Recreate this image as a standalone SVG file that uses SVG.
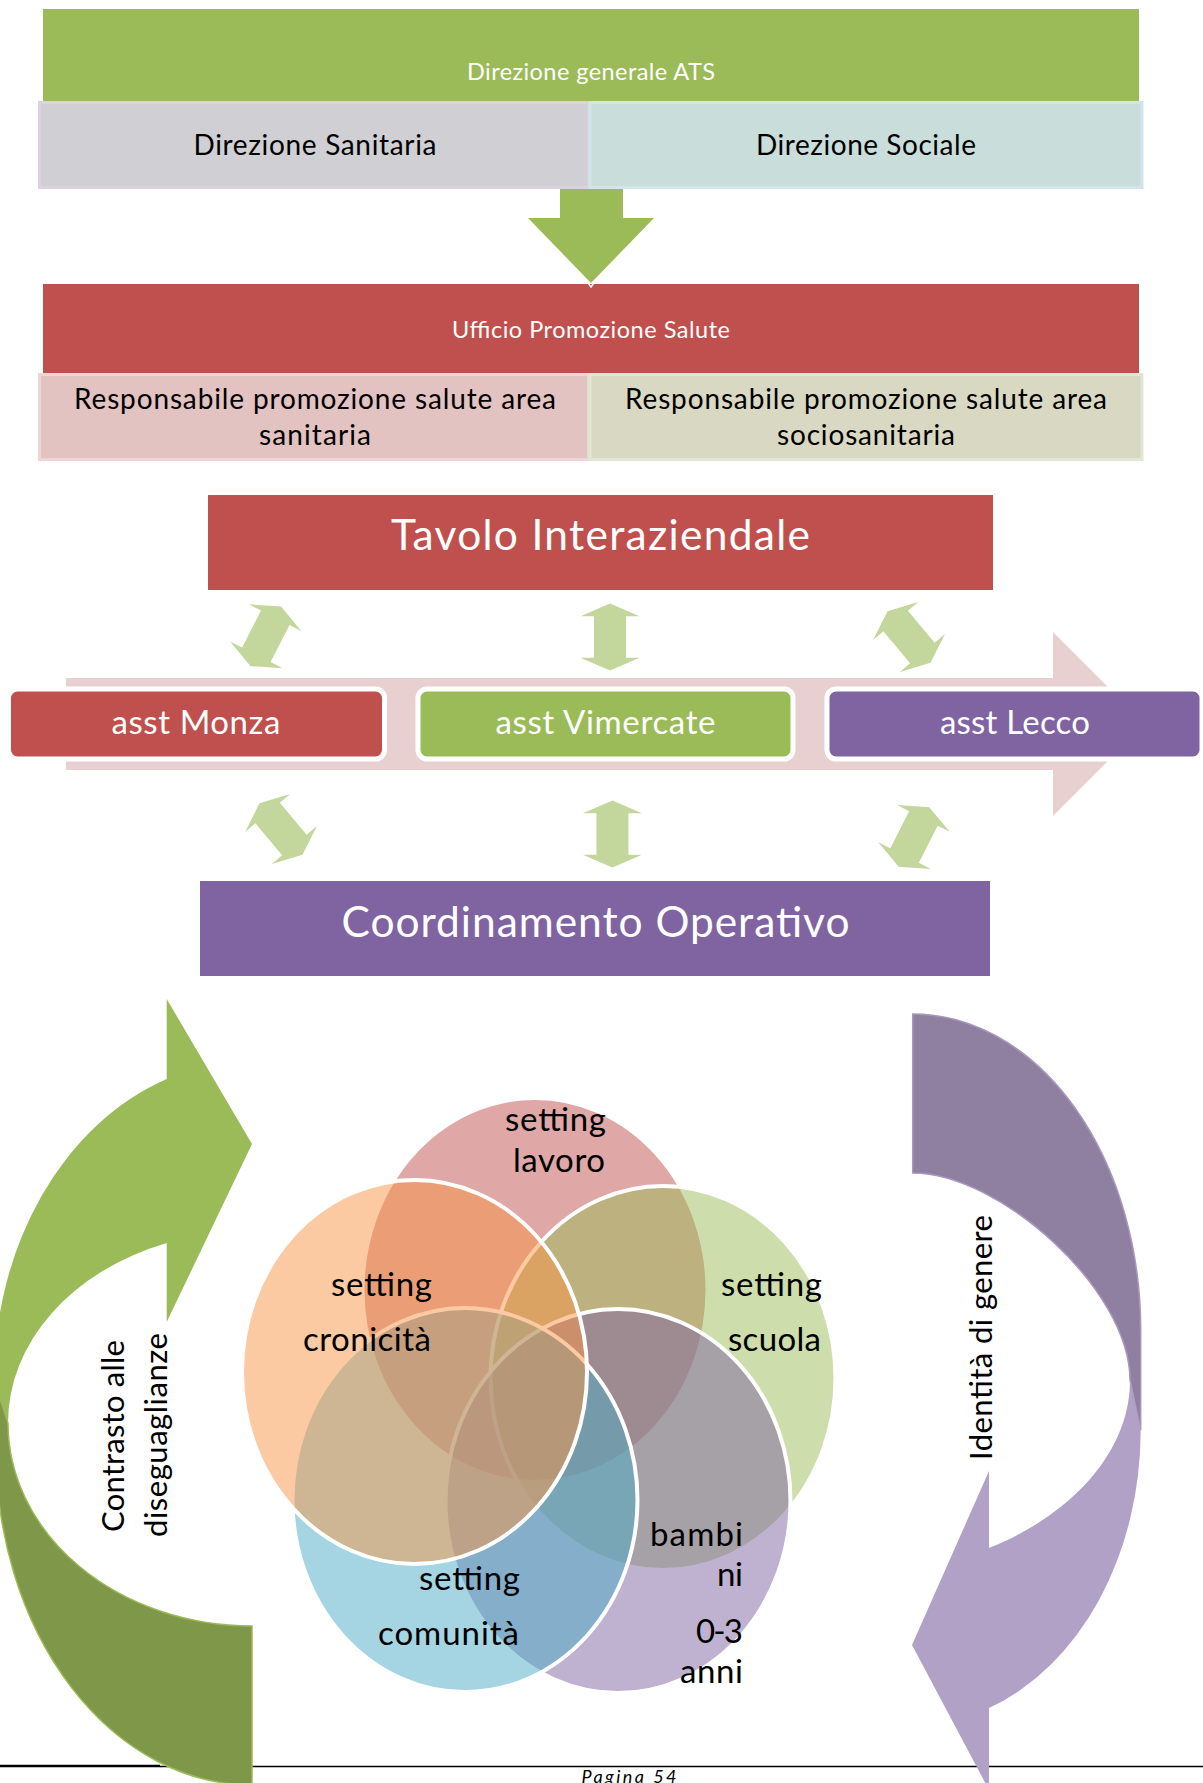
<svg xmlns="http://www.w3.org/2000/svg" width="1203" height="1783" viewBox="0 0 1203 1783">
  <defs>
    <style>
      text { font-family: Lato, "Liberation Sans", sans-serif; }
      .w { fill: #ffffff; }
      .k { fill: #000000; }
      .mid { text-anchor: middle; }
      .end { text-anchor: end; }
      .dbl { fill: #C3D69B; }
      .venn { stroke: #ffffff; stroke-width: 4; }
      .asst { stroke: #ffffff; stroke-width: 5; }
      .lbl { font-size: 33px; }
    </style>
    <!-- vertical double-headed arrow, centred on the origin -->
    <path id="dbl" d="M0,-33.5 L29.5,-20.8 L16,-20.8 L16,20.8 L29.5,20.8 L0,33.5 L-29.5,20.8 L-16,20.8 L-16,-20.8 L-29.5,-20.8 Z"/>
  </defs>

  <rect width="1203" height="1783" fill="#ffffff"/>

  <!-- footer rule behind the shapes -->
  <line x1="0" y1="1766.5" x2="1203" y2="1766.5" stroke="#000" stroke-width="1.6"/>

  <!-- ===== top hierarchy ===== -->
  <g id="direzione-generale">
    <rect x="43" y="9" width="1096" height="92" fill="#9BBB59"/>
    <text x="591" y="80" class="w mid" font-size="23.5" textLength="248">Direzione generale ATS</text>
  </g>
  <g id="direzione-sanitaria">
    <rect x="39.5" y="102.5" width="549" height="85" fill="#D0CFD3" stroke="#DCD2DF" stroke-width="3"/>
    <text x="315" y="155" class="k mid" font-size="28" textLength="243">Direzione Sanitaria</text>
  </g>
  <g id="direzione-sociale">
    <rect x="590" y="102.5" width="552" height="85" fill="#C9DEDB" stroke="#D2E5EA" stroke-width="3"/>
    <text x="866" y="155" class="k mid" font-size="28" textLength="220">Direzione Sociale</text>
  </g>

  <g id="ufficio-promozione">
    <rect x="43" y="284" width="1096" height="89" fill="#C0504D"/>
    <text x="591" y="338" class="w mid" font-size="23.5" textLength="278">Ufficio Promozione Salute</text>
  </g>
  <g id="resp-sanitaria">
    <rect x="39.5" y="374.5" width="549" height="85" fill="#E3C2C2" stroke="#EFD6D6" stroke-width="3"/>
    <text x="315" y="409" class="k mid" font-size="28" textLength="482">Responsabile promozione salute area</text>
    <text x="315" y="445" class="k mid" font-size="28" textLength="112">sanitaria</text>
  </g>
  <g id="resp-sociosanitaria">
    <rect x="590" y="374.5" width="552" height="85" fill="#D9D8C3" stroke="#DEE8D3" stroke-width="3"/>
    <text x="866" y="409" class="k mid" font-size="28" textLength="482">Responsabile promozione salute area</text>
    <text x="866" y="445" class="k mid" font-size="28" textLength="178">sociosanitaria</text>
  </g>

  <g id="tavolo-interaziendale">
    <rect x="208" y="495" width="785" height="95" fill="#C0504D"/>
    <text x="600.5" y="550" class="w mid" font-size="42.5" textLength="419">Tavolo Interaziendale</text>
  </g>

  <!-- ===== connectors ===== -->
  <g id="connectors">
    <!-- down arrow from the directorate to the promotion office -->
    <path d="M560,189 L623,189 L623,218 L654,218 L591,283 L528,218 L560,218 Z" fill="#9BBB59"/>
    <path d="M588,283 L591,287 L594,283" fill="none" stroke="#ffffff" stroke-width="1.5"/>
    <!-- broad process arrow behind the three ASST boxes -->
    <polygon points="66,678 1053,678 1053,632 1145,724 1053,816 1053,770 66,770" fill="#E8D0D0"/>
    <!-- two-way links between tavolo / ASST / coordinamento -->
    <use href="#dbl" class="dbl" transform="translate(265.8,636.3) rotate(27)"/>
    <use href="#dbl" class="dbl" transform="translate(610,637)"/>
    <use href="#dbl" class="dbl" transform="translate(909,637) rotate(-40)"/>
    <use href="#dbl" class="dbl" transform="translate(281,829) rotate(-40)"/>
    <use href="#dbl" class="dbl" transform="translate(612.4,834)"/>
    <use href="#dbl" class="dbl" transform="translate(914,837) rotate(27)"/>
  </g>

  <g id="asst-monza">
    <rect x="8.5" y="689" width="376" height="70" rx="9" fill="#C0504D" class="asst"/>
    <text x="196" y="734" class="w mid" font-size="33" textLength="169">asst Monza</text>
  </g>
  <g id="asst-vimercate">
    <rect x="418" y="689" width="375" height="70" rx="9" fill="#9BBB59" class="asst"/>
    <text x="605.5" y="734" class="w mid" font-size="33" textLength="220">asst Vimercate</text>
  </g>
  <g id="asst-lecco">
    <rect x="827" y="689" width="375" height="70" rx="9" fill="#8064A2" class="asst"/>
    <text x="1015" y="734" class="w mid" font-size="33" textLength="150">asst Lecco</text>
  </g>

  <g id="coordinamento-operativo">
    <rect x="200" y="881" width="790" height="95" fill="#8064A2"/>
    <text x="595.5" y="937" class="w mid" font-size="42.5" textLength="508">Coordinamento Operativo</text>
  </g>

  <!-- ===== left curved arrow ===== -->
  <g id="contrasto-diseguaglianze">
    <path d="M166.7,999 L252,1144 L166.7,1322 L166.7,1243 A244,192 0 0 0 8,1423 L-6,1380 A258,320 0 0 1 166.7,1079 Z" fill="#9BBB59"/>
    <path d="M8,1423 A244,203 0 0 0 252,1626 L252,1790 L252,1785 A256,335 0 0 1 -4,1450 L-6,1380 Z" fill="#7F9748" stroke="#9BBB59" stroke-width="1.5"/>
    <text transform="translate(123.5,1436) rotate(-90)" class="k mid" font-size="31" textLength="192">Contrasto alle</text>
    <text transform="translate(166.5,1435) rotate(-90)" class="k mid" font-size="31" textLength="204">diseguaglianze</text>
  </g>

  <!-- ===== right curved arrow ===== -->
  <g id="identita-genere">
    <path d="M912.7,1014 A228,316 0 0 1 1140.7,1330 L1140.7,1430 L1130,1380 C1130,1290 1000,1173 912.7,1173 Z" fill="#8F80A1" stroke="#A898BE" stroke-width="1.5"/>
    <path d="M1130,1380 L1140.7,1430 A228,295 0 0 1 989,1708 L989,1790 L912,1645 L989,1471 L989,1548 C1060,1520 1130,1460 1130,1380 Z" fill="#B1A1C7"/>
    <text transform="translate(991.7,1337.5) rotate(-90)" class="k mid" font-size="31" textLength="245">Identità di genere</text>
  </g>

  <!-- ===== settings venn ===== -->
  <g id="venn">
    <ellipse id="setting-lavoro" cx="535" cy="1290" rx="172.5" ry="192" fill="#C0504D" fill-opacity="0.5" class="venn"/>
    <ellipse id="setting-scuola" cx="663" cy="1378" rx="172.5" ry="192" fill="#9BBB59" fill-opacity="0.5" class="venn"/>
    <ellipse id="setting-bambini" cx="618" cy="1501" rx="172.5" ry="192" fill="#8064A2" fill-opacity="0.5" class="venn"/>
    <ellipse id="setting-comunita" cx="465" cy="1500" rx="172.5" ry="192" fill="#4BACC6" fill-opacity="0.5" class="venn"/>
    <ellipse id="setting-cronicita" cx="414.5" cy="1372" rx="172.5" ry="192" fill="#F79646" fill-opacity="0.5" class="venn"/>

    <g class="k end lbl">
      <text x="606" y="1131" textLength="101">setting</text>
      <text x="605" y="1172" textLength="92">lavoro</text>
      <text x="432" y="1295.5" textLength="101">setting</text>
      <text x="431" y="1351" textLength="128">cronicità</text>
      <text x="822" y="1295.5" textLength="101">setting</text>
      <text x="821" y="1351" textLength="93">scuola</text>
      <text x="520" y="1590" textLength="101">setting</text>
      <text x="519" y="1645" textLength="141">comunità</text>
      <text x="743" y="1546" textLength="93">bambi</text>
      <text x="743" y="1586" textLength="26">ni</text>
      <text x="743" y="1643" textLength="47">0-3</text>
      <text x="743" y="1683" textLength="63">anni</text>
    </g>
  </g>

  <!-- footer -->
  <line x1="0" y1="1765.5" x2="160" y2="1765.5" stroke="#000" stroke-width="1.6"/>
  <text x="629" y="1783" class="k mid" font-size="18" font-style="italic" textLength="95">Pagina 54</text>
</svg>
